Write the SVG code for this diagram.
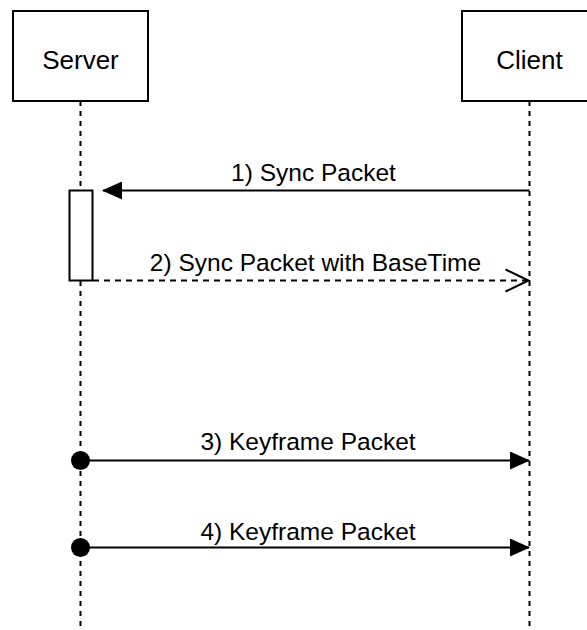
<svg xmlns="http://www.w3.org/2000/svg" width="587" height="630" viewBox="0 0 587 630">
  <style>
    .box { fill: #ffffff; stroke: #000000; stroke-width: 2; }
    .life { stroke: #000000; stroke-width: 2; stroke-dasharray: 5 5; fill: none; }
    .msg { stroke: #000000; stroke-width: 2; fill: none; }
    .dash { stroke-dasharray: 6 5; }
    .name { font-family: "Liberation Sans", Arial, sans-serif; font-size: 26px; fill: #000000; text-anchor: middle; }
    .lbl { font-family: "Liberation Sans", Arial, sans-serif; font-size: 24.5px; fill: #000000; text-anchor: middle; }
  </style>
  <defs>
    <marker id="filled" viewBox="0 0 20 18" refX="19" refY="9" markerWidth="20" markerHeight="18" markerUnits="userSpaceOnUse" orient="auto">
      <path d="M0,0 L20,9 L0,18 Z" fill="#000000"/>
    </marker>
    <marker id="open" viewBox="0 0 26 26" refX="24" refY="13" markerWidth="26" markerHeight="26" markerUnits="userSpaceOnUse" orient="auto">
      <path d="M1,2 L24,13 L1,24" fill="none" stroke="#000000" stroke-width="2"/>
    </marker>
    <marker id="dot" viewBox="0 0 20 20" refX="10" refY="10" markerWidth="20" markerHeight="20" markerUnits="userSpaceOnUse" orient="auto">
      <circle cx="10" cy="10" r="9.5" fill="#000000"/>
    </marker>
  </defs>

  <g id="lifelines">
    <line class="life" x1="80.5" y1="101" x2="80.5" y2="630"/>
    <line class="life" x1="529.5" y1="101" x2="529.5" y2="630"/>
  </g>

  <g id="server">
    <rect class="box" x="13" y="11" width="135" height="90"/>
    <text class="name" x="80.5" y="69">Server</text>
  </g>

  <g id="client">
    <rect class="box" x="462" y="11" width="135" height="90"/>
    <text class="name" x="529.5" y="69">Client</text>
  </g>

  <g id="activation">
    <rect class="box" x="69.5" y="190.5" width="23" height="90"/>
  </g>

  <g id="connectors">
    <line class="msg" x1="529.5" y1="190.5" x2="103" y2="190.5" marker-end="url(#filled)"/>
    <line class="msg dash" x1="93" y1="280.5" x2="528.5" y2="280.5" marker-end="url(#open)"/>
    <line class="msg" x1="80.5" y1="460.5" x2="529" y2="460.5" marker-start="url(#dot)" marker-end="url(#filled)"/>
    <line class="msg" x1="80.5" y1="547.5" x2="529" y2="547.5" marker-start="url(#dot)" marker-end="url(#filled)"/>
  </g>

  <g id="labels">
    <text class="lbl" x="313.5" y="181">1) Sync Packet</text>
    <text class="lbl" x="315.5" y="271">2) Sync Packet with BaseTime</text>
    <text class="lbl" x="308" y="450">3) Keyframe Packet</text>
    <text class="lbl" x="308" y="540">4) Keyframe Packet</text>
  </g>
</svg>
